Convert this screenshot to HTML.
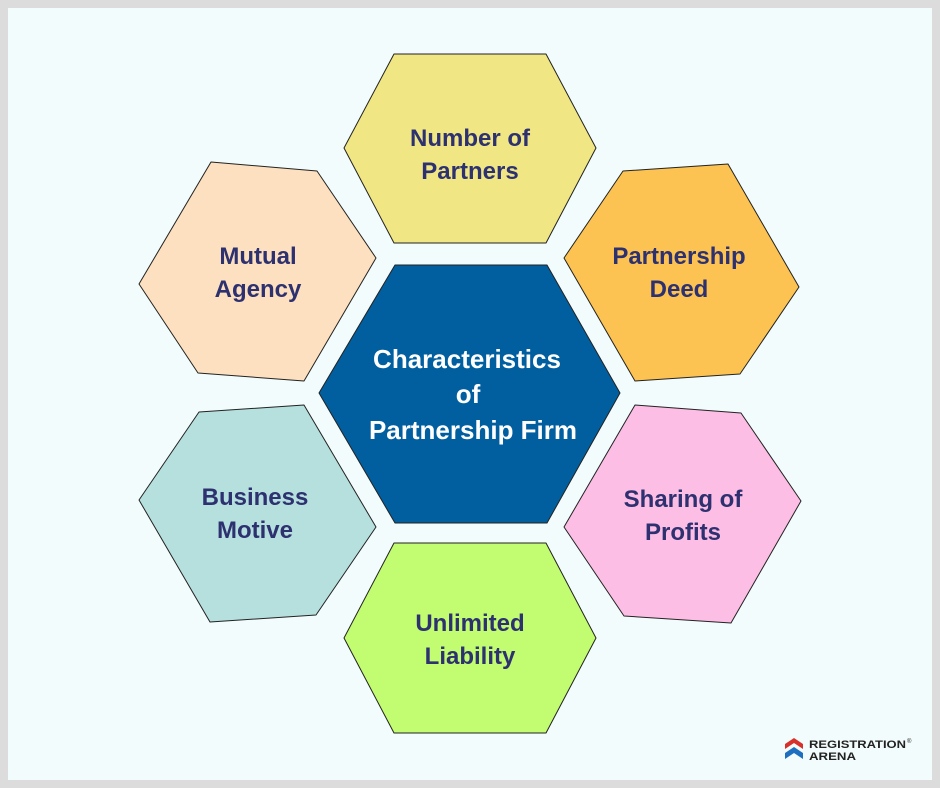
<!DOCTYPE html>
<html><head><style>
html,body{margin:0;padding:0;background:#dcdcdc;}
svg{display:block}
</style></head><body>
<svg width="940" height="788" viewBox="0 0 940 788" xmlns="http://www.w3.org/2000/svg">
<rect x="0" y="0" width="940" height="788" fill="#dcdcdc"/>
<rect x="8" y="8" width="924" height="772" fill="#f3fcfc"/>
<g stroke="#222" stroke-width="1" stroke-linejoin="round">
<polygon points="344,148 394,54 546,54 596,148 546,243 394,243" fill="#f1e684"/>
<polygon points="319,393 395,265 547,265 620,393 547,523 395,523" fill="#015fa0"/>
<polygon points="344,638 394,543 546,543 596,638 546,733 394,733" fill="#c2fc70"/>
<polygon points="211,162 317,171 376,258 304,381 198,373 139,284" fill="#fde0bf"/>
<polygon points="199,412 304,405 376,527 316,615 210,622 139,500" fill="#b6e0de"/>
<polygon points="623,171 728,164 799,287 740,374 635,381 564,258" fill="#fcc353"/>
<polygon points="635,405 741,413 801,501 731,623 624,616 564,527" fill="#fdbee6"/>
</g>
<g font-family="Liberation Sans, sans-serif" font-weight="bold" font-size="24" fill="#2d3170" text-anchor="middle">
<text x="470" y="146">Number of</text><text x="470" y="179">Partners</text>
<text x="258" y="264">Mutual</text><text x="258" y="297">Agency</text>
<text x="679" y="264">Partnership</text><text x="679" y="297">Deed</text>
<text x="255" y="505">Business</text><text x="255" y="538">Motive</text>
<text x="683" y="507">Sharing of</text><text x="683" y="540">Profits</text>
<text x="470" y="631">Unlimited</text><text x="470" y="664">Liability</text>
</g>
<g font-family="Liberation Sans, sans-serif" font-weight="bold" font-size="26" fill="#ffffff" text-anchor="middle">
<text x="467" y="368">Characteristics</text>
<text x="468" y="403">of</text>
<text x="473" y="439">Partnership Firm</text>
</g>
<g>
<polygon points="785,744 794,738 803,744 803,749 794,743 785,749" fill="#d8312c"/>
<polygon points="785,753 794,747 803,753 803,759 794,753 785,759" fill="#1f6fc0"/>
<text x="809" y="748" font-family="Liberation Sans, sans-serif" font-weight="bold" font-size="11" fill="#222" textLength="97" lengthAdjust="spacingAndGlyphs">REGISTRATION</text>
<text x="907" y="743" font-family="Liberation Sans, sans-serif" font-size="6" fill="#222">®</text>
<text x="809" y="760" font-family="Liberation Sans, sans-serif" font-weight="bold" font-size="11" fill="#222" textLength="47" lengthAdjust="spacingAndGlyphs">ARENA</text>
</g>
</svg>
</body></html>
